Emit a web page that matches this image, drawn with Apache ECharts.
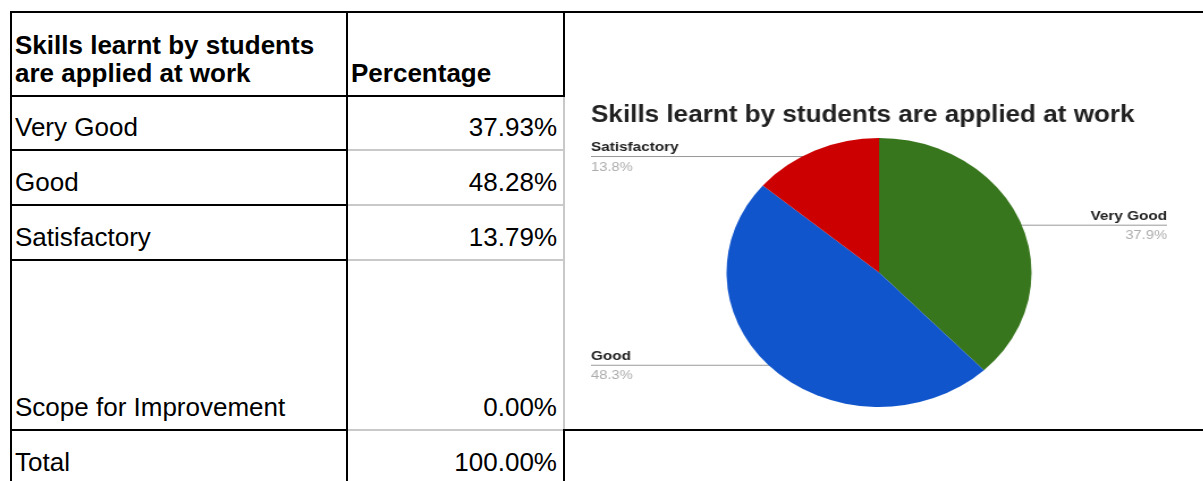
<!DOCTYPE html>
<html>
<head>
<meta charset="utf-8">
<script src="https://cdn.jsdelivr.net/npm/echarts@6.0.0/dist/echarts.min.js"></script>
<style>
  html, body { margin: 0; padding: 0; background: #fff; }
  body { width: 1203px; height: 481px; overflow: hidden; position: relative;
         font-family: 'Liberation Sans', Arial, sans-serif; color: #000; }
  .ln { position: absolute; }
  .cell { position: absolute; box-sizing: border-box; display: flex; align-items: flex-end;
          font-size: 26px; line-height: 28px; padding: 0 6px 8px 3px; white-space: nowrap; }
  #pie { position: absolute; left: 591px; top: 98px; width: 508px; height: 320px;
         transform: scaleX(1.134); transform-origin: 0 0; }
</style>
</head>
<body>
<div id="pie"></div>
<script>
// table + chart data
var tableTitle = ['Skills learnt by students', 'are applied at work'];
var valueHeader = 'Percentage';
var categories = ['Very Good', 'Good', 'Satisfactory', 'Scope for Improvement'];
var percentages = [37.93, 48.28, 13.79, 0.00];
var totalLabel = 'Total';
var chartTitle = 'Skills learnt by students are applied at work';
var sliceColors = ['#38761d', '#1155cc', '#cc0000', '#ff9900'];

// table grid (px)
var colX = [10, 346, 563, 1203];
var rowY = [11, 95, 149, 204, 259, 429, 484];
var BLACK = '#000', GRAY = '#c9c9c9';

function hLine(x1, x2, y, color) {
  var d = document.createElement('div');
  d.className = 'ln';
  d.style.cssText = 'left:' + x1 + 'px;top:' + y + 'px;width:' + (x2 - x1) + 'px;height:2px;background:' + color;
  document.body.appendChild(d);
}
function vLine(x, y1, y2, color) {
  var d = document.createElement('div');
  d.className = 'ln';
  d.style.cssText = 'left:' + x + 'px;top:' + y1 + 'px;width:2px;height:' + (y2 - y1) + 'px;background:' + color;
  document.body.appendChild(d);
}
function cell(col, row, html, right, bold) {
  var d = document.createElement('div');
  d.className = 'cell';
  var x1 = colX[col] + 2, x2 = colX[col + 1];
  var y1 = rowY[row] + 2, y2 = rowY[row + 1];
  d.style.left = x1 + 'px';
  d.style.top = y1 + 'px';
  d.style.width = (x2 - x1) + 'px';
  d.style.height = (y2 - y1) + 'px';
  d.style.justifyContent = right ? 'flex-end' : 'flex-start';
  if (bold) d.style.fontWeight = 'bold';
  d.innerHTML = html;
  document.body.appendChild(d);
}

// lines
hLine(colX[0], colX[3], rowY[0], BLACK);
hLine(colX[0], colX[2] + 2, rowY[1], BLACK);
for (var r = 2; r <= 5; r++) {
  hLine(colX[0], colX[1] + 2, rowY[r], BLACK);
  hLine(colX[1] + 2, colX[2], rowY[r], GRAY);
}
hLine(colX[2], colX[3], rowY[5], BLACK);
vLine(colX[0], rowY[0], rowY[6], BLACK);
vLine(colX[1], rowY[0], rowY[6], BLACK);
vLine(colX[2], rowY[0], rowY[1] + 2, BLACK);
vLine(colX[2], rowY[1] + 2, rowY[5], GRAY);
vLine(colX[2], rowY[5], rowY[6], BLACK);

// cells
cell(0, 0, tableTitle.join('<br>'), false, true);
cell(1, 0, valueHeader, false, true);
var total = 0;
categories.forEach(function (name, i) {
  cell(0, i + 1, name, false, false);
  cell(1, i + 1, percentages[i].toFixed(2) + '%', true, false);
  total += percentages[i];
});
cell(0, 5, totalLabel, false, false);
cell(1, 5, total.toFixed(2) + '%', true, false);

// pie chart
var font = "'Liberation Sans', Arial, sans-serif";
var pieCenterY = 174.5;
var pieRadius = 134.5;
var nameLineH = 16;

var chart = echarts.init(document.getElementById('pie'));

var pieData = categories.map(function (name, i) {
  return { name: name, value: percentages[i], itemStyle: { color: sliceColors[i] } };
}).filter(function (d) { return d.value > 0; });

chart.setOption({
  animation: false,
  title: {
    text: chartTitle,
    left: 0,
    top: 6,
    padding: 0,
    textStyle: { fontFamily: font, fontSize: 23, fontWeight: 'bold', color: '#212121' }
  },
  series: [{
    type: 'pie',
    left: 0, right: 0, top: 0, bottom: 0,
    center: ['50%', pieCenterY],
    radius: pieRadius,
    startAngle: 90,
    clockwise: true,
    percentPrecision: 1,
    silent: true,
    data: pieData,
    label: {
      position: 'outside',
      alignTo: 'edge',
      edgeDistance: 0,
      formatter: '{n|{b}}\n{p|{d}%}',
      rich: {
        n: { fontFamily: font, fontSize: 13.5, fontWeight: 'bold', color: '#222', lineHeight: nameLineH },
        p: { fontFamily: font, fontSize: 13, color: '#adadad', lineHeight: 23 }
      }
    },
    labelLine: { show: true, length: 0, length2: 10, lineStyle: { color: '#999', width: 1 } },
    labelLayout: function (params) {
      var pts = params.labelLinePoints;
      if (!pts) return {};
      var rect = params.labelRect;
      var cx = chart.getWidth() / 2;
      // start the leader a little inside the slice
      var sx = cx + (pts[0][0] - cx) * 0.95;
      var sy = pieCenterY + (pts[0][1] - pieCenterY) * 0.95;
      var onLeft = pts[pts.length - 1][0] < pts[0][0];
      var ex = onLeft ? rect.x : rect.x + rect.width;
      return {
        dy: sy - (rect.y + nameLineH),
        labelLinePoints: [[sx, sy], [sx, sy], [ex, sy]]
      };
    }
  }]
});
</script>
</body>
</html>
